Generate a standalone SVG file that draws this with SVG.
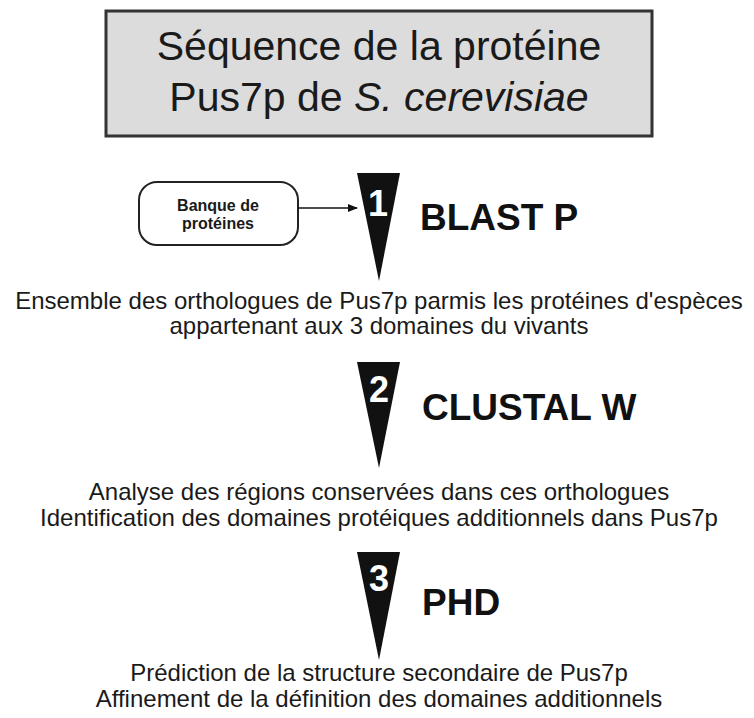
<svg xmlns="http://www.w3.org/2000/svg" width="754" height="718" viewBox="0 0 754 718">
<style>
text{font-family:"Liberation Sans",Arial,sans-serif;fill:#1a1a1a}
.title{font-size:41px}
.tool{font-size:37px;font-weight:bold;fill:#111}
.num{font-size:36px;font-weight:bold;fill:#fff;text-anchor:middle}
.res{font-size:24px;text-anchor:middle}
.funnel{fill:#111}
</style>
<defs>
<marker id="ah" markerWidth="10" markerHeight="8" refX="9" refY="4" orient="auto" markerUnits="userSpaceOnUse">
<path d="M0,0 L10,4 L0,8 Z" fill="#111"/>
</marker>
</defs>
<rect width="754" height="718" fill="#fff"/>
<g id="title">
<rect x="106" y="11" width="546" height="125" fill="#dcdcdc" stroke="#333" stroke-width="3"/>
<text class="title" x="379" y="60" text-anchor="middle">Séquence de la protéine</text>
<text class="title" x="379" y="111" text-anchor="middle">Pus7p de <tspan font-style="italic">S. cerevisiae</tspan></text>
</g>
<g id="banque">
<rect x="139" y="182" width="159" height="63" rx="18" ry="18" fill="#fff" stroke="#222" stroke-width="2"/>
<text x="218" y="211" font-size="16" font-weight="bold" text-anchor="middle">Banque de</text>
<text x="218" y="229" font-size="16" font-weight="bold" text-anchor="middle">protéines</text>
</g>
<g id="connectors">
<line x1="298" y1="208" x2="357" y2="208" stroke="#111" stroke-width="1.5" marker-end="url(#ah)"/>
</g>
<g id="step1">
<polygon class="funnel" points="357,173 400,173 379,281"/>
<text class="num" x="378" y="216">1</text>
<text class="tool" x="420" y="230">BLAST P</text>
</g>
<g id="result1">
<text class="res" x="379" y="309">Ensemble des orthologues de Pus7p parmis les protéines d'espèces</text>
<text class="res" x="379" y="334">appartenant aux 3 domaines du vivants</text>
</g>
<g id="step2">
<polygon class="funnel" points="357,362 400,362 379,468"/>
<text class="num" x="379" y="402">2</text>
<text class="tool" x="422" y="420">CLUSTAL W</text>
</g>
<g id="result2">
<text class="res" x="379" y="500">Analyse des régions conservées dans ces orthologues</text>
<text class="res" x="379" y="526">Identification des domaines protéiques additionnels dans Pus7p</text>
</g>
<g id="step3">
<polygon class="funnel" points="357,552 400,552 379,660"/>
<text class="num" x="379" y="591">3</text>
<text class="tool" x="422" y="615">PHD</text>
</g>
<g id="result3">
<text class="res" x="379" y="681">Prédiction de la structure secondaire de Pus7p</text>
<text class="res" x="379" y="707">Affinement de la définition des domaines additionnels</text>
</g>
</svg>
